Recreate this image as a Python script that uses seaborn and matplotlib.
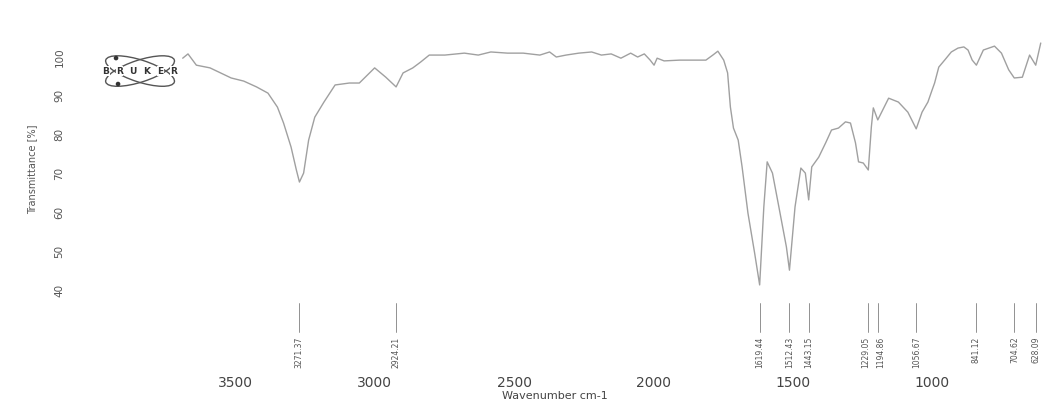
import numpy as np
import pandas as pd
import matplotlib
matplotlib.use("Agg")
import matplotlib.pyplot as plt
import matplotlib.transforms as mtransforms
from matplotlib.patches import Ellipse, Circle
import seaborn as sns

# FTIR spectrum
wavenumber = [3690, 3671, 3641, 3592, 3554, 3516, 3471, 3425, 3384, 3350, 3328, 3301, 3282, 3271,
              3256, 3238, 3216, 3183, 3143, 3092, 3056, 3001, 2961, 2924,
              2899, 2864, 2836, 2805, 2749, 2679, 2629, 2584, 2524, 2468, 2408, 2373, 2349, 2314,
              2268, 2222, 2187, 2152, 2117, 2082, 2057, 2033, 2012, 1998, 1987, 1962, 1906, 1812,
              1787, 1769, 1748, 1734, 1724, 1713, 1696, 1682, 1661, 1637, 1619,
              1604, 1592, 1573, 1550, 1523, 1512, 1492, 1471, 1455, 1443,
              1432, 1407, 1382, 1361, 1336, 1311, 1293, 1275, 1264, 1247, 1229,
              1218, 1211, 1195, 1156, 1121, 1087, 1057,
              1036, 1015, 1000, 991, 976, 955, 931, 907, 886, 871, 856, 841,
              816, 776, 751, 725, 705, 676, 650, 628, 610]
transmittance = [99.7, 100.8, 97.9, 97.2, 95.9, 94.6, 93.8, 92.3, 90.7, 87.1, 83.0, 76.8, 70.9, 67.8,
                 70.1, 78.6, 84.5, 88.4, 92.8, 93.3, 93.3, 97.2, 94.8, 92.3,
                 95.9, 97.2, 98.7, 100.5, 100.5, 101.0, 100.5, 101.3, 101.0, 101.0, 100.5, 101.3, 100.0, 100.5,
                 101.0, 101.3, 100.5, 100.8, 99.7, 101.0, 100.0, 100.8, 99.2, 97.9, 99.7, 99.0, 99.2, 99.2,
                 100.5, 101.5, 99.2, 95.9, 87.1, 81.7, 78.6, 71.7, 59.8, 49.5, 41.3,
                 61.4, 73.0, 70.1, 61.4, 51.1, 45.1, 61.4, 71.4, 70.1, 63.2,
                 71.7, 74.2, 77.9, 81.2, 81.7, 83.3, 83.0, 77.9, 73.0, 72.7, 70.9,
                 82.0, 86.9, 83.8, 89.4, 88.4, 85.8, 81.5,
                 85.8, 88.4, 91.5, 93.3, 97.4, 99.2, 101.3, 102.3, 102.6, 101.8, 99.2, 97.9,
                 101.8, 102.8, 101.0, 96.7, 94.6, 94.8, 100.5, 97.9, 103.6]

peak_pos = [3271.37, 2924.21, 1619.44, 1512.43, 1443.15, 1229.05, 1194.86, 1056.67, 841.12, 704.62, 628.09]
peak_labels = ["3271.37", "2924.21", "1619.44", "1512.43", "1443.15", "1229.05",
               "1194.86", "1056.67", "841.12", "704.62", "628.09"]
# small horizontal nudges (px) so neighbouring labels don't collide
label_nudge = [0, 0, 0, 0, 0, -3, 3, 0, 0, 0, 0]

x_ticks = [3500, 3000, 2500, 2000, 1500, 1000]
y_ticks = [40, 50, 60, 70, 80, 90, 100]

df = pd.DataFrame({"wn": wavenumber, "T": transmittance})

sns.set_style("white")
plt.rcParams['font.family'] = ['DejaVu Sans']

fig = plt.figure(figsize=(10.53, 4.03), dpi=100)
ax = fig.add_axes([0.0915, 0.2419, 0.8995, 0.6648])

sns.lineplot(data=df, x="wn", y="T", ax=ax, color="#a0a0a0", linewidth=1.0, sort=False)

ax.set_xlim(4000, 600)
ax.set_ylim(36, 105)
sns.despine(ax=ax, left=True, bottom=True)

ax.set_xticks(x_ticks)
ax.set_xticklabels([str(t) for t in x_ticks], fontsize=10, color="#444444")
ax.set_yticks(y_ticks)
ax.set_yticklabels([str(t) for t in y_ticks], fontsize=7.5, color="#555555",
                   rotation=90, va="center")
ax.tick_params(axis="x", length=0, pad=51)
ax.tick_params(axis="y", length=0, pad=23)

ax.set_xlabel("Wavenumber cm-1", fontsize=8, color="#444444", ha="center", va="top")
ax.xaxis.set_label_coords(0.484, -0.318)
ax.set_ylabel("Transmittance [%]", fontsize=7, color="#555555")
ax.yaxis.set_label_coords(-0.063, 0.51)

# peak markers below the spectrum
trans = mtransforms.blended_transform_factory(ax.transData, ax.transAxes)
for p, lab, dx in zip(peak_pos, peak_labels, label_nudge):
    ax.plot([p, p], [0.01, -0.10], transform=trans, color="#808080", lw=0.6, clip_on=False)
    off = mtransforms.ScaledTranslation(dx / 100, 0, fig.dpi_scale_trans)
    ax.text(p, -0.117, lab, transform=trans + off, rotation=90, ha="center", va="top",
            fontsize=5.5, color="#555555", clip_on=False)

# Bruker logo
lax = fig.add_axes([0.095, 0.7717, 0.076, 0.104])
lax.set_xlim(0, 80)
lax.set_ylim(0, 42)
lax.axis("off")
for ang in (18, -18):
    lax.add_patch(Ellipse((40, 21), 72, 22, angle=ang, fill=False, ec="#555555", lw=1.0))
lax.add_patch(Circle((16, 34), 1.6, color="#333333"))
lax.add_patch(Circle((18, 8), 1.6, color="#333333"))
for i, ch in enumerate("BRUKER"):
    lax.text(6 + i * 13.5, 21, ch, fontsize=6.5, fontweight="bold", color="#333333",
             ha="center", va="center",
             bbox=dict(facecolor="white", edgecolor="none", pad=0.3))

fig.savefig("out.png", dpi=100, facecolor="white")
